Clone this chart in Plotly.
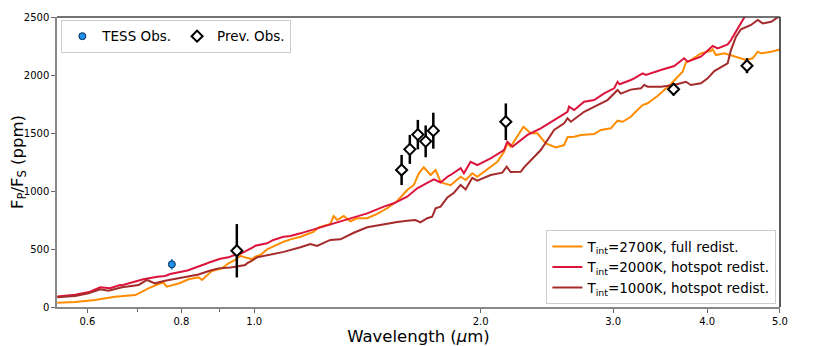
import plotly.graph_objects as go

# model spectra (wavelength in micron, Fp/Fs in ppm)
wl_2700 = [0.547, 0.578, 0.614, 0.653, 0.695, 0.723, 0.746, 0.757, 0.765, 0.795, 0.818, 0.843, 0.852,
           0.878, 0.906, 0.924, 0.943, 0.958, 0.973, 0.993, 1.003, 1.019, 1.040, 1.094, 1.117, 1.152,
           1.200, 1.218, 1.262, 1.275, 1.289, 1.315, 1.342, 1.370, 1.413, 1.457, 1.502, 1.549, 1.597,
           1.630, 1.655, 1.680, 1.716, 1.742, 1.769, 1.787, 1.824, 1.881, 1.910, 1.949, 1.979, 2.020,
           2.105, 2.148, 2.170, 2.192, 2.280, 2.331, 2.379, 2.441, 2.517, 2.582, 2.609, 2.663, 2.718,
           2.831, 2.889, 2.979, 3.041, 3.088, 3.167, 3.200, 3.283, 3.334, 3.437, 3.580, 3.711, 3.749,
           3.807, 3.925, 4.048, 4.069, 4.110, 4.216, 4.347, 4.506, 4.600, 4.671, 4.718, 4.867, 5.0]
fp_2700 = [37, 43, 60, 89, 103, 161, 198, 210, 175, 205, 239, 256, 233,
           310, 333, 377, 405, 440, 428, 411, 434, 448, 497, 563, 583, 606,
           649, 687, 715, 784, 750, 784, 739, 765, 765, 802, 851, 914, 1009,
           1052, 1153, 1204, 1138, 1181, 1080, 1066, 1050, 1123, 1095, 1153, 1123, 1166,
           1252, 1339, 1411, 1382, 1554, 1497, 1497, 1411, 1376, 1396, 1463, 1468, 1483,
           1491, 1526, 1540, 1606, 1597, 1640, 1670, 1741, 1756, 1819, 1922, 2028, 2109,
           2129, 2187, 2209, 2221, 2172, 2187, 2158, 2129, 2144, 2201, 2187, 2201, 2221]

wl_2000 = [0.547, 0.578, 0.605, 0.624, 0.643, 0.663, 0.667, 0.712, 0.743, 0.761, 0.773, 0.815, 0.866,
           0.869, 0.901, 0.924, 0.949, 0.960, 0.997, 1.003, 1.040, 1.060, 1.094, 1.117, 1.152, 1.212,
           1.275, 1.342, 1.413, 1.487, 1.533, 1.597, 1.647, 1.698, 1.733, 1.769, 1.806, 1.824, 1.881,
           1.900, 1.939, 1.979, 2.062, 2.148, 2.170, 2.204, 2.308, 2.404, 2.530, 2.609, 2.621, 2.663,
           2.745, 2.831, 2.919, 3.009, 3.041, 3.060, 3.167, 3.200, 3.283, 3.316, 3.472, 3.617, 3.729,
           3.769, 3.925, 4.069, 4.132, 4.260, 4.303, 4.393, 4.482, 4.600, 4.800, 5.0]
fp_2000 = [90, 106, 132, 170, 161, 190, 187, 239, 261, 267, 284, 315, 377,
           382, 416, 428, 457, 460, 515, 528, 549, 578, 606, 612, 635, 678,
           715, 761, 807, 865, 894, 951, 1023, 1071, 1100, 1073, 1123, 1138, 1196,
           1153, 1252, 1224, 1282, 1353, 1425, 1382, 1483, 1540, 1627, 1683, 1727, 1698,
           1770, 1784, 1842, 1885, 1942, 1920, 1957, 1971, 2014, 2000, 2043, 2077, 2144,
           2115, 2158, 2250, 2230, 2264, 2301, 2402, 2488, 2620, 2700, 2720]

wl_1000 = [0.547, 0.578, 0.602, 0.624, 0.640, 0.667, 0.702, 0.720, 0.738, 0.761, 0.793, 0.818, 0.843,
           0.870, 0.896, 0.930, 0.953, 0.973, 0.978, 0.993, 1.008, 1.040, 1.094, 1.152, 1.187, 1.212,
           1.262, 1.302, 1.356, 1.413, 1.487, 1.549, 1.597, 1.638, 1.663, 1.698, 1.724, 1.742, 1.769,
           1.806, 1.843, 1.881, 1.910, 1.949, 1.979, 2.062, 2.137, 2.166, 2.192, 2.261, 2.284, 2.331,
           2.404, 2.454, 2.504, 2.582, 2.609, 2.636, 2.745, 2.860, 2.949, 3.041, 3.072, 3.167, 3.266,
           3.299, 3.334, 3.472, 3.617, 3.749, 3.807, 3.925, 4.007, 4.089, 4.174, 4.260, 4.303, 4.370,
           4.437, 4.576, 4.671, 4.743, 4.867, 4.967, 5.0]
fp_1000 = [84, 95, 118, 153, 141, 170, 190, 233, 204, 227, 247, 261, 280,
           310, 333, 340, 350, 362, 377, 399, 428, 445, 475, 515, 543, 526,
           578, 583, 640, 687, 715, 733, 744, 750, 730, 765, 778, 851, 865,
           944, 985, 1052, 1014, 1114, 1089, 1138, 1158, 1209, 1164, 1166, 1204, 1267,
           1353, 1440, 1526, 1584, 1627, 1597, 1683, 1741, 1784, 1871, 1839, 1874, 1885,
           1914, 1899, 1899, 1914, 1942, 1914, 1928, 1971, 2034, 2071, 2101, 2215, 2330,
           2394, 2431, 2474, 2445, 2459, 2497, 2510]

# observations
tess_wl = [0.777]
tess_fp = [368]
tess_err = [45]

prev_wl = [0.948, 1.57, 1.61, 1.65, 1.69, 1.73, 2.16, 3.61, 4.52]
prev_fp = [485, 1181, 1359, 1486, 1428, 1520, 1597, 1877, 2080]
prev_err = [230, 130, 125, 127, 137, 155, 158, 53, 65]

fig = go.Figure()

models = [(wl_2700, fp_2700, '#FF8C00', 'T<sub>int</sub>=2700K, full redist.'),
          (wl_2000, fp_2000, '#DC143C', 'T<sub>int</sub>=2000K, hotspot redist.'),
          (wl_1000, fp_1000, '#A52A2A', 'T<sub>int</sub>=1000K, hotspot redist.')]
for wl, fp, col, name in models:
    fig.add_trace(go.Scatter(x=wl, y=fp, mode='lines', name=name, legend='legend2',
                             line=dict(color=col, width=2)))

fig.add_trace(go.Scatter(
    x=tess_wl, y=tess_fp, mode='markers', name='TESS Obs.', legend='legend',
    marker=dict(symbol='circle', size=7, color='#1E8FEA', line=dict(color='#0a2a50', width=1)),
    error_y=dict(type='data', array=tess_err, color='#1E8FEA', thickness=2, width=0)))

fig.add_trace(go.Scatter(
    x=prev_wl, y=prev_fp, mode='markers', name='Prev. Obs.', legend='legend',
    marker=dict(symbol='diamond', size=8.5, color='white', line=dict(color='black', width=2)),
    error_y=dict(type='data', array=prev_err, color='black', thickness=2.5, width=0)))

fig.update_xaxes(
    type='log', range=[-0.2623, 0.699], automargin=False,
    tickmode='array', tickvals=[0.6, 0.8, 1.0, 2.0, 3.0, 4.0, 5.0],
    ticktext=['0.6', '0.8', '1.0', '2.0', '3.0', '4.0', '5.0'],
    ticks='outside', ticklen=4, tickwidth=1, tickcolor='#666',
    minor=dict(tickmode='array', tickvals=[0.7, 0.9], ticks='outside', ticklen=3, tickcolor='#666'),
    showline=True, linecolor='#888', linewidth=1.5, showgrid=False, zeroline=False,
    tickfont=dict(size=10, color='black'),
    title=dict(text='Wavelength (<i>μ</i>m)', font=dict(size=16.5, color='black'), standoff=4))
fig.update_yaxes(
    range=[0, 2500], tickvals=[0, 500, 1000, 1500, 2000, 2500], automargin=False,
    ticks='outside', ticklen=4, tickwidth=1, tickcolor='#666',
    showline=True, linecolor='#888', linewidth=1.5, showgrid=False, zeroline=False,
    tickfont=dict(size=10, color='black'),
    title=dict(text='F<sub>P</sub>/F<sub>S</sub> (ppm)', font=dict(size=16.5, color='black'), standoff=3))

# top and right frame lines
fig.add_shape(type='line', xref='paper', yref='paper', x0=0, x1=1, y0=1, y1=1,
              line=dict(color='#444', width=1.5))
fig.add_shape(type='line', xref='paper', yref='paper', x0=1, x1=1, y0=0, y1=1,
              line=dict(color='#222', width=1.5))

# the page adds an 8px body margin, so the figure is sized to fit inside the window
fig.update_layout(
    width=822, height=338,
    margin=dict(l=49, r=50, t=9, b=39),
    paper_bgcolor='white', plot_bgcolor='white',
    font=dict(family='DejaVu Sans', color='black'),
    legend=dict(orientation='h', x=0.006, y=0.99, xanchor='left', yanchor='top',
                bgcolor='rgba(255,255,255,0.8)', bordercolor='#cccccc', borderwidth=1,
                font=dict(size=13.5), itemwidth=30),
    legend2=dict(x=0.995, y=0.01, xanchor='right', yanchor='bottom',
                 bgcolor='rgba(255,255,255,0.8)', bordercolor='#cccccc', borderwidth=1,
                 font=dict(size=13.5), itemwidth=30, tracegroupgap=0),
)

fig.write_html("out.html")
